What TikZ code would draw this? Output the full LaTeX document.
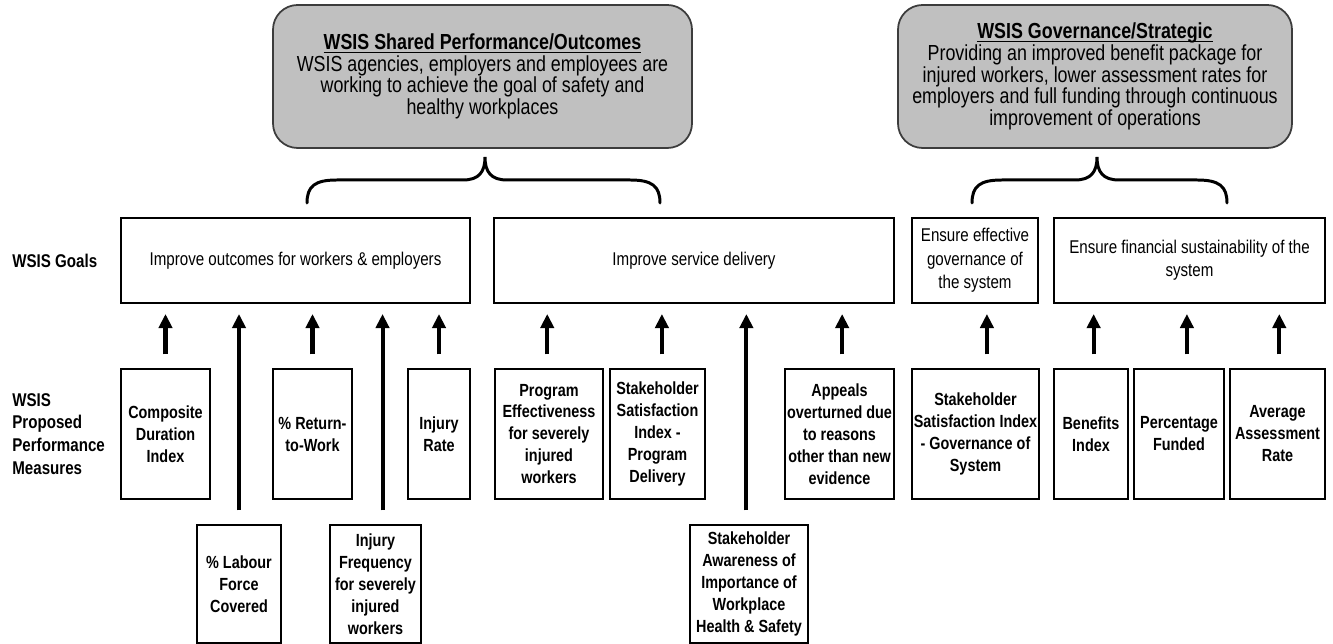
\documentclass[tikz,border=0pt]{standalone}
\usepackage{fontspec}
\setmainfont[FakeStretch=0.82]{Liberation Sans}
\usepackage{tikz}
\usetikzlibrary{arrows.meta}
\definecolor{outcomegray}{RGB}{192,192,192}
\definecolor{outcomeedge}{RGB}{60,60,60}

% underlined heading, rule kept close to the baseline
\newcommand\boxtitle[1]{\underline{\raisebox{0pt}[\height][0pt]{\textbf{#1}}}}

\tikzset{
  px/.style 2 args={minimum width={#1*0.02cm}, minimum height={#2*0.02cm}},
  outcome/.style={draw=outcomeedge, fill=outcomegray, line width=1pt, rounded corners=14pt,
    align=center, inner sep=0pt, font=\fontsize{12.4}{12.3}\selectfont},
  goal/.style={draw, line width=1.5pt, align=center, inner sep=0pt,
    font=\fontsize{10.5}{13.3}\selectfont},
  measure/.style={draw, line width=1.6pt, align=center, inner sep=0pt,
    font=\bfseries\fontsize{10}{12.5}\selectfont},
  rowlabel/.style={anchor=west, align=left, inner sep=0pt,
    font=\bfseries\fontsize{10.5}{13}\selectfont},
  uparrow/.style={line width=2.3pt, -{Triangle[length=8pt,width=7.5pt]},
    shorten <=7.5pt, shorten >=5.5pt},
  bracket/.style={line width=1.7pt, line cap=round},
}

\begin{document}
\begin{tikzpicture}[x=0.02cm, y=-0.02cm]
    \useasboundingbox (0,0) rectangle (1333,644);

    % Shared outcome and governance boxes at the top
    \node[outcome, px={419}{143}] (shared) at (482.5,76.5)
        {\boxtitle{WSIS Shared Performance/Outcomes}\\
         WSIS agencies, employers and employees are\\
         working to achieve the goal of safety and\\
         healthy workplaces};
    \node[outcome, px={394}{143}] (strategic) at (1095,76.5)
        {\boxtitle{WSIS Governance/Strategic}\\
         Providing an improved benefit package for\\
         injured workers, lower assessment rates for\\
         employers and full funding through continuous\\
         improvement of operations};

    % Braces joining the goals to the boxes above
    \foreach \lft/\tip/\rgt in {307/485/660, 972/1097/1227}
        \draw[bracket] (\lft,203) .. controls (\lft,186) and ({\lft+8},180) .. ({\lft+30},180)
            -- ({\tip-22},180) .. controls ({\tip-6},180) and (\tip,172) .. (\tip,157)
            .. controls (\tip,172) and ({\tip+6},180) .. ({\tip+22},180)
            -- ({\rgt-30},180) .. controls ({\rgt-8},180) and (\rgt,186) .. (\rgt,203);

    % Row labels
    \node[rowlabel] (goalslabel) at (12,261) {WSIS Goals};
    \node[rowlabel] (measureslabel) at (12,434) {WSIS\\Proposed\\Performance\\Measures};

    % Goals
    \node[goal, px={349}{85}] (goalOut) at (295.5,260.5) {Improve outcomes for workers \& employers};
    \node[goal, px={400}{85}] (goalServ) at (694,260.5) {Improve service delivery};
    \node[goal, px={126}{85}] (goalGov) at (975,260.5) {Ensure effective\\governance of\\the system};
    \node[goal, px={271}{85}] (goalFin) at (1189.5,260.5) {Ensure financial sustainability of the\\system};

    % Performance measures, upper row
    \node[measure, px={89}{130}] (mCDI) at (165.5,434) {Composite\\Duration\\Index};
    \node[measure, px={79}{130}] (mRTW) at (312.5,434) {\% Return-\\to-Work};
    \node[measure, px={62}{130}] (mInj) at (439,434) {Injury\\Rate};
    \node[measure, px={108}{130}] (mProg) at (549,434) {Program\\Effectiveness\\for severely\\injured\\workers};
    \node[measure, px={95}{130}] (mSSP) at (657.5,434) {Stakeholder\\Satisfaction\\Index -\\Program\\Delivery};
    \node[measure, px={109}{130}] (mAppeals) at (839.5,434) {Appeals\\overturned due\\to reasons\\other than new\\evidence};
    \node[measure, px={127}{130}] (mSSG) at (975.5,434) {Stakeholder\\Satisfaction Index\\- Governance of\\System};
    \node[measure, px={74}{130}] (mBen) at (1091,434) {Benefits\\Index};
    \node[measure, px={90}{130}] (mFund) at (1179,434) {Percentage\\Funded};
    \node[measure, px={95}{130}] (mAvg) at (1277.5,434) {Average\\Assessment\\Rate};

    % Performance measures, lower row
    \node[measure, px={84}{118}] (mLabour) at (239,584) {\% Labour\\Force\\Covered};
    \node[measure, px={91}{118}] (mFreq) at (375.5,584) {Injury\\Frequency\\for severely\\injured\\workers};
    \node[measure, px={118}{118}] (mAware) at (749,584) {Stakeholder\\Awareness of\\Importance of\\Workplace\\Health \& Safety};

    % Arrows from each measure up to its goal
    \foreach \m/\g/\dx in {mCDI/goalOut/0, mLabour/goalOut/0, mRTW/goalOut/0, mFreq/goalOut/4,
        mInj/goalOut/0, mProg/goalServ/-1, mSSP/goalServ/2.5, mAware/goalServ/-1.5,
        mAppeals/goalServ/1.5, mSSG/goalGov/6.5, mBen/goalFin/1.5, mFund/goalFin/4.5, mAvg/goalFin/1}
        \draw[uparrow] ([xshift=\dx pt]\m.north) -- ([xshift=\dx pt]\m.north |- \g.south);

\end{tikzpicture}
\end{document}
